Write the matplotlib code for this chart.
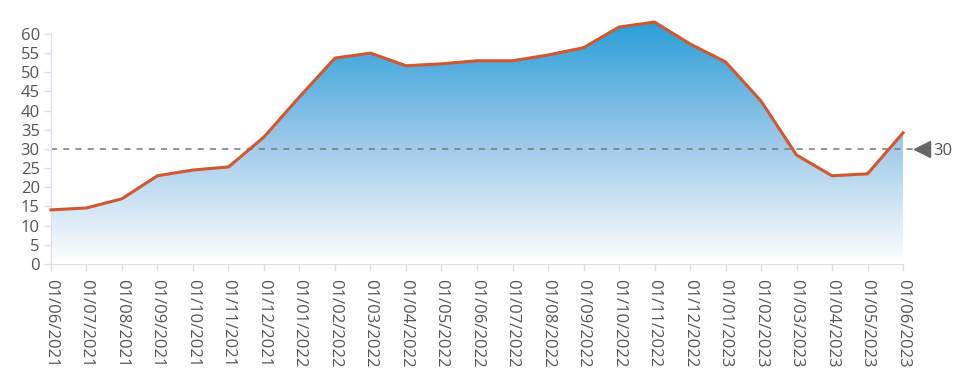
import numpy as np
import matplotlib.pyplot as plt
from matplotlib.colors import LinearSegmentedColormap

plt.rcParams['font.family'] = ['Open Sans', 'DejaVu Sans']

dates = ["01/06/2021", "01/07/2021", "01/08/2021", "01/09/2021", "01/10/2021",
         "01/11/2021", "01/12/2021", "01/01/2022", "01/02/2022", "01/03/2022",
         "01/04/2022", "01/05/2022", "01/06/2022", "01/07/2022", "01/08/2022",
         "01/09/2022", "01/10/2022", "01/11/2022", "01/12/2022", "01/01/2023",
         "01/02/2023", "01/03/2023", "01/04/2023", "01/05/2023", "01/06/2023"]
values = [14.1, 14.6, 17.0, 23.0, 24.5, 25.3, 33.1, 43.6, 53.7, 55.0,
          51.7, 52.2, 53.0, 53.0, 54.5, 56.4, 61.8, 63.1, 57.4, 52.7,
          42.5, 28.4, 23.0, 23.5, 34.2]
threshold = 30

fig = plt.figure(figsize=(9.65, 3.87), dpi=100)
# y range a bit above 60 so the peak is not cut off
ax = fig.add_axes([0.0528, 0.318, 0.883, 0.629])

x = np.arange(len(values))
ymax = max(values)

# gradient fill under the line
cmap = LinearSegmentedColormap.from_list("fade", ["#ffffff", "#9ec9ea", "#2a9fd8"])
grad = np.linspace(0, 1, 256).reshape(-1, 1)
img = ax.imshow(grad, extent=[x[0], x[-1], 0, ymax], origin="lower",
                aspect="auto", cmap=cmap, zorder=1)
poly = ax.fill_between(x, values, 0, color="none")
clip = poly.get_paths()[0]
img.set_clip_path(clip, transform=ax.transData)

ax.plot(x, values, color="#d2562e", lw=2.2, zorder=3, clip_on=False)

ax.axhline(threshold, color="#777777", lw=1.1, ls=(0, (4, 4)), zorder=2,
           xmax=1.012, clip_on=False)
ax.plot([len(values) - 1 + 0.52], [threshold], marker="<", ms=11, color="#666666",
        clip_on=False, zorder=4)
ax.text(len(values) - 1 + 0.85, threshold, "30", va="center_baseline", ha="left",
        fontsize=12, color="#555555")

ax.set_xlim(x[0], x[-1])
ax.set_ylim(0, 63.5)
ax.set_yticks(range(0, 61, 5))
ax.set_xticks(x)
ax.set_xticklabels(dates, rotation=270)
ax.tick_params(axis="both", colors="#dcdcec", labelcolor="#555555", labelsize=12,
               length=5, width=1)
ax.tick_params(axis="x", pad=6)
ax.tick_params(axis="y", pad=3)

for s in ["top", "right"]:
    ax.spines[s].set_visible(False)
for s in ["left", "bottom"]:
    ax.spines[s].set_color("#dcdcec")
ax.spines["left"].set_bounds(0, 60)

fig.savefig("out.png", dpi=100)
